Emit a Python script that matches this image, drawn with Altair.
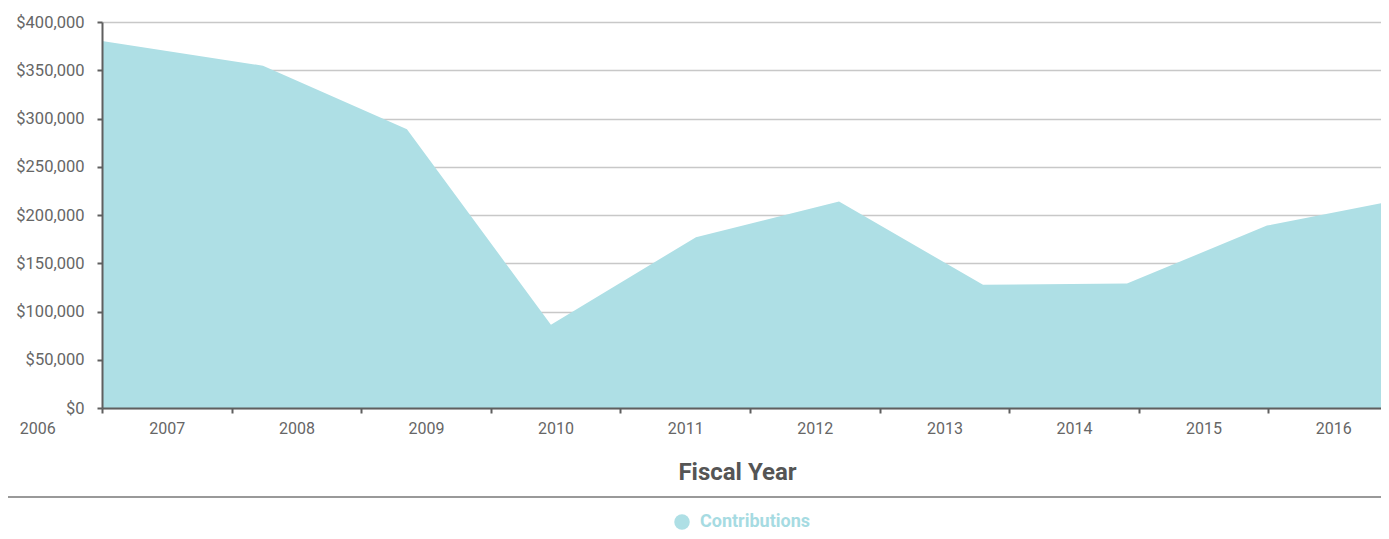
import altair as alt
import pandas as pd

# Fiscal-year positions of the data points
positions = [2006.5, 2007.742, 2008.853, 2009.964, 2011.083, 2012.187,
             2013.298, 2014.409, 2015.489, 2016.431]
contributions = [380300, 354700, 288900, 86200, 177000, 213900,
                 127700, 129000, 189000, 213900]
series = ["Contributions"] * len(positions)
tick_years = [2006.5 + i for i in range(10)]
label_years = [2006.5] + list(range(2007, 2017))
y_ticks = [0, 50000, 100000, 150000, 200000, 250000, 300000, 350000, 400000]

df = pd.DataFrame({"pos": positions, "value": contributions, "series": series})

FONT = "Roboto"
AREA = "#aedfe5"
PLOT_W = 1279
X_DOMAIN = [2006.5, 2006.5 + PLOT_W / 129.6]

x_axis = alt.Axis(
    orient="bottom",
    values=tick_years,
    labels=False,
    grid=False,
    domainColor="#5f5f5f",
    domainWidth=2,
    tickColor="#5f5f5f",
    tickWidth=2,
    tickSize=5,
    title="Fiscal Year",
    titleFont=FONT,
    titleFontSize=24,
    titleFontWeight="bold",
    titleColor="#555555",
    titleX=635,
    titleY=64,
    titleBaseline="middle",
    titleAnchor="middle",
    titleAlign="center",
    zindex=1,
)

label_axis = alt.Axis(
    orient="bottom",
    values=label_years,
    labelExpr="datum.value == 2006.5 ? '2006' : format(datum.value, 'd')",
    labelOffset={"condition": {"test": "datum.value == 2006.5", "value": -64.8}, "value": 0},
    labelFlush=False,
    labelOverlap=False,
    labelBound=False,
    ticks=False,
    domain=False,
    grid=False,
    labelPadding=12,
    labelFont=FONT,
    labelFontSize=16,
    labelColor="#666666",
    title=None,
    zindex=1,
)

y_axis = alt.Axis(
    orient="left",
    values=y_ticks,
    format="$,.0f",
    grid=False,
    domainColor="#5f5f5f",
    domainWidth=2,
    tickColor="#5f5f5f",
    tickWidth=2,
    tickSize=5,
    labelPadding=13,
    labelFont=FONT,
    labelFontSize=16.5,
    labelColor="#666666",
    title=None,
    zindex=1,
)

grid_axis = alt.Axis(
    orient="left",
    values=y_ticks,
    grid=True,
    gridColor="#c8c8c8",
    gridWidth=1.5,
    labels=False,
    ticks=False,
    domain=False,
    title=None,
    zindex=0,
)

x_scale = alt.Scale(domain=X_DOMAIN, nice=False, zero=False)
y_scale = alt.Scale(domain=[0, 400000], nice=False)

area = alt.Chart(df).mark_area(opacity=1, interpolate="linear", clip=True).encode(
    x=alt.X("pos:Q", scale=x_scale, axis=x_axis),
    y=alt.Y("value:Q", scale=y_scale, axis=y_axis),
    color=alt.Color(
        "series:N",
        scale=alt.Scale(domain=["Contributions"], range=[AREA]),
        legend=alt.Legend(
            title=None,
            orient="none",
            legendX=571,
            legendY=491,
            symbolType="circle",
            symbolSize=240,
            symbolStrokeWidth=0,
            symbolOpacity=1,
            labelFont=FONT,
            labelFontSize=18,
            labelFontWeight="bold",
            labelColor="#a6dbe2",
            labelOffset=9,
            padding=0,
        ),
    ),
)

labels_layer = alt.Chart(df).mark_point(opacity=0).encode(
    x=alt.X("pos:Q", scale=x_scale, axis=label_axis),
    y=alt.Y("value:Q", scale=y_scale, axis=grid_axis),
)

separator = alt.Chart(df).mark_rule(color="#999999", strokeWidth=2).encode(
    x=alt.value(-94), x2=alt.value(PLOT_W), y=alt.value(475)
)

chart = alt.layer(area, labels_layer, separator).resolve_axis(
    x="independent", y="independent"
).properties(
    width=PLOT_W,
    height=386,
    autosize=alt.AutoSizeParams(type="none"),
    padding={"left": 94, "top": 14, "right": 0, "bottom": 123},
).configure_view(stroke=None)

chart.save("out.html", embed_options={"renderer": "svg", "actions": False})
